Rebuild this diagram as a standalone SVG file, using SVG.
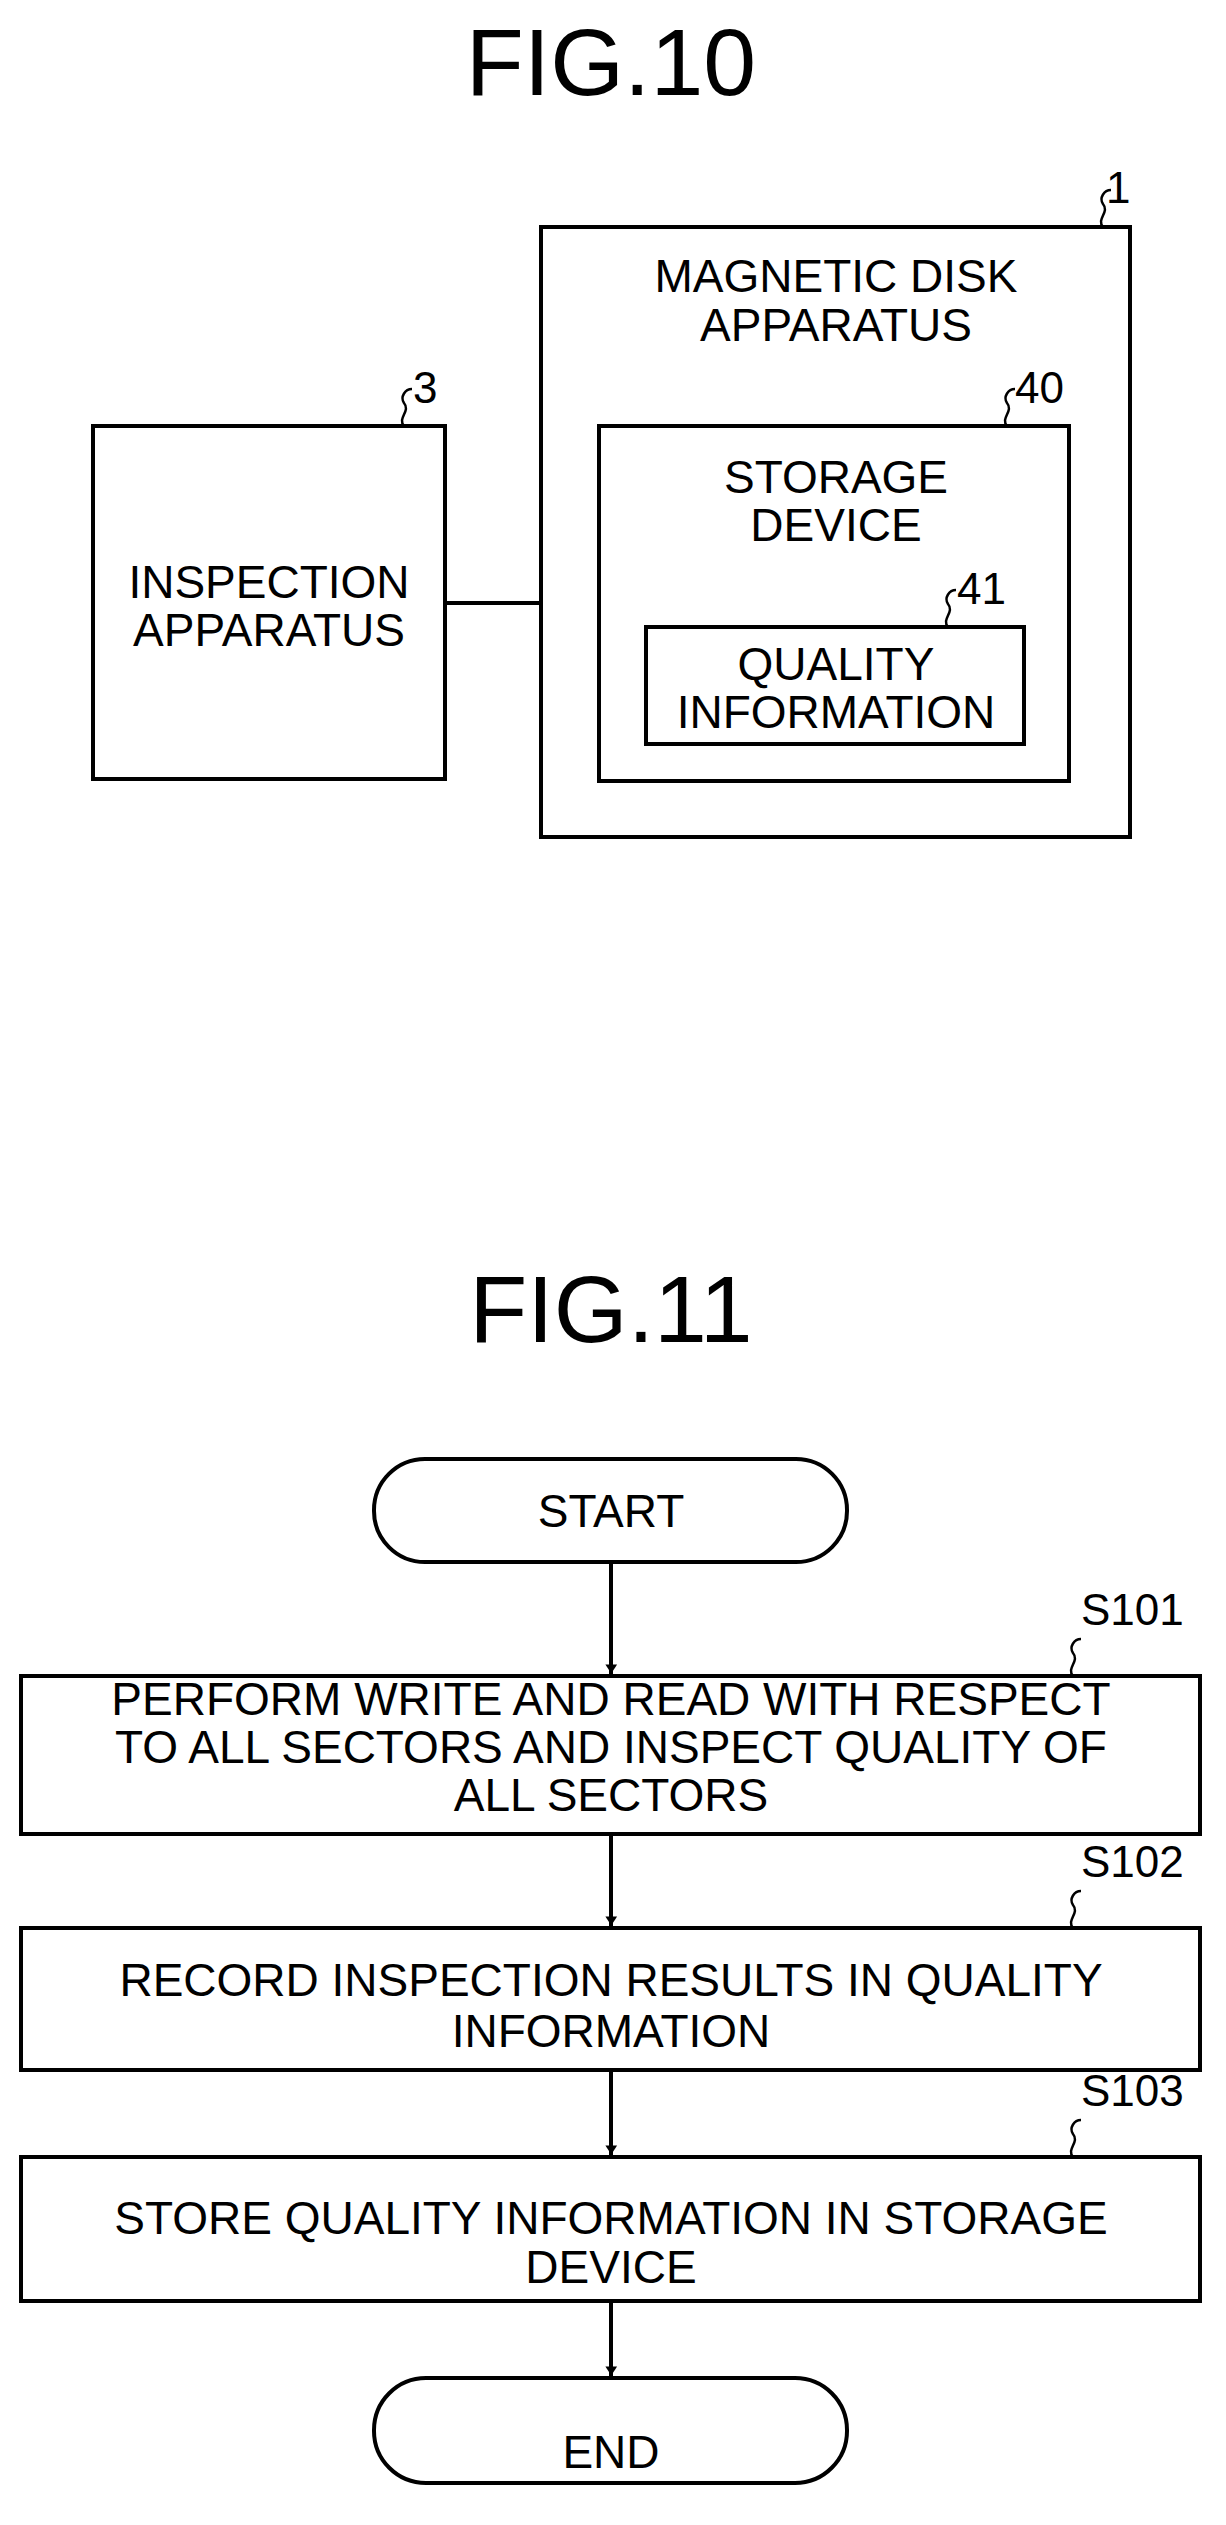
<svg xmlns="http://www.w3.org/2000/svg" width="1226" height="2525" viewBox="0 0 1226 2525">
<defs>
<style>
.b{fill:none;stroke:#000;stroke-width:4}
.t{font-family:"Liberation Sans",Arial,sans-serif;font-size:46px;text-anchor:middle;fill:#000}
.l{font-family:"Liberation Sans",Arial,sans-serif;font-size:44px;fill:#000}
.h{font-family:"Liberation Sans",Arial,sans-serif;font-size:95px;text-anchor:middle;fill:#000}
.s{fill:none;stroke:#000;stroke-width:2.5}
.c{fill:none;stroke:#000;stroke-width:4}
</style>
<marker id="a" viewBox="0 0 10 10" refX="10" refY="5" markerWidth="5" markerHeight="5" orient="auto" markerUnits="userSpaceOnUse" style="overflow:visible"><path d="M-10,-8 L10,5 L-10,18 Z" transform="scale(0.9)"/></marker>
</defs>
<rect width="1226" height="2525" fill="#fff"/>
<text class="h" x="611" y="95">FIG.10</text>
<g id="n1">
<rect class="b" x="541" y="227" width="589" height="610"/>
<text class="t" x="836" y="292">MAGNETIC DISK</text>
<text class="t" x="836" y="341">APPARATUS</text>
<path class="s" d="M1103,227 C1096,219 1110,212 1103,204 C1099,198 1104,190 1111,190"/>
<text class="l" x="1106" y="203">1</text>
</g>
<g id="n40">
<rect class="b" x="599" y="426" width="470" height="355"/>
<text class="t" x="836" y="493">STORAGE</text>
<text class="t" x="836" y="541">DEVICE</text>
<path class="s" d="M1007,426 C1000,418 1014,411 1007,403 C1003,397 1008,389 1015,389"/>
<text class="l" x="1015" y="403">40</text>
</g>
<g id="n41">
<rect class="b" x="646" y="627" width="378" height="117"/>
<text class="t" x="836" y="680">QUALITY</text>
<text class="t" x="836" y="728">INFORMATION</text>
<path class="s" d="M948,627 C941,619 955,612 948,604 C944,598 949,590 956,590"/>
<text class="l" x="957" y="604">41</text>
</g>
<g id="n3">
<rect class="b" x="93" y="426" width="352" height="353"/>
<text class="t" x="269" y="598">INSPECTION</text>
<text class="t" x="269" y="646">APPARATUS</text>
<path class="s" d="M404,426 C397,418 411,411 404,403 C400,397 405,389 412,389"/>
<text class="l" x="413" y="403">3</text>
</g>
<text class="h" x="611" y="1342">FIG.11</text>
<g id="start">
<rect class="b" x="374" y="1459" width="473" height="103" rx="51"/>
<text class="t" x="611" y="1527">START</text>
</g>
<g id="s101">
<rect class="b" x="21" y="1676" width="1179" height="158"/>
<text class="t" x="611" y="1715">PERFORM WRITE AND READ WITH RESPECT</text>
<text class="t" x="611" y="1763">TO ALL SECTORS AND INSPECT QUALITY OF</text>
<text class="t" x="611" y="1811">ALL SECTORS</text>
<path class="s" d="M1073,1676 C1066,1668 1080,1661 1073,1653 C1069,1647 1074,1639 1081,1639"/>
<text class="l" x="1081" y="1625">S101</text>
</g>
<g id="s102">
<rect class="b" x="21" y="1928" width="1179" height="142"/>
<text class="t" x="611" y="1996">RECORD INSPECTION RESULTS IN QUALITY</text>
<text class="t" x="611" y="2047">INFORMATION</text>
<path class="s" d="M1073,1928 C1066,1920 1080,1913 1073,1905 C1069,1899 1074,1891 1081,1891"/>
<text class="l" x="1081" y="1877">S102</text>
</g>
<g id="s103">
<rect class="b" x="21" y="2157" width="1179" height="144"/>
<text class="t" x="611" y="2234">STORE QUALITY INFORMATION IN STORAGE</text>
<text class="t" x="611" y="2283">DEVICE</text>
<path class="s" d="M1073,2157 C1066,2149 1080,2142 1073,2134 C1069,2128 1074,2120 1081,2120"/>
<text class="l" x="1081" y="2106">S103</text>
</g>
<g id="end">
<rect class="b" x="374" y="2378" width="473" height="105" rx="52"/>
<text class="t" x="611" y="2468">END</text>
</g>
<g id="connectors">
<line class="c" x1="445" y1="603" x2="541" y2="603"/>
<line class="c" x1="611" y1="1562" x2="611" y2="1674" marker-end="url(#a)"/>
<line class="c" x1="611" y1="1834" x2="611" y2="1926" marker-end="url(#a)"/>
<line class="c" x1="611" y1="2070" x2="611" y2="2155" marker-end="url(#a)"/>
<line class="c" x1="611" y1="2301" x2="611" y2="2376" marker-end="url(#a)"/>
</g>
</svg>
